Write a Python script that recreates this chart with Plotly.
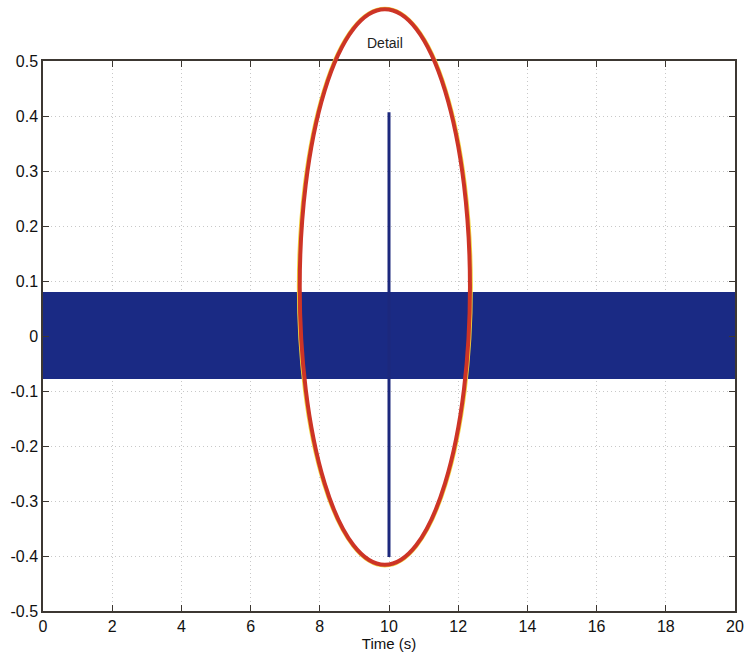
import plotly.graph_objects as go

# Signal envelope over the record (seconds, volts)
env_time = [0.0, 20.0]
env_upper = [0.080, 0.080]
env_lower = [-0.078, -0.078]

# Transient spike at t = 10 s
spike_time = [10.0, 10.0]
spike_values = [-0.402, 0.407]

# Highlight ellipse (centre and half-widths in data units)
detail_center = (9.88, 0.089)
detail_radius = (2.46, 0.505)
detail_label = "Detail"

x_range = [0, 20]
y_range = [-0.5, 0.5]
x_ticks = [0, 2, 4, 6, 8, 10, 12, 14, 16, 18, 20]
y_ticks = [0.5, 0.4, 0.3, 0.2, 0.1, 0, -0.1, -0.2, -0.3, -0.4, -0.5]

signal_color = "rgb(26,42,132)"
font_family = "Liberation Sans, Arial"

fig = go.Figure()
fig.add_trace(go.Scatter(x=env_time, y=env_lower, mode="lines",
                         line=dict(color=signal_color, width=0), showlegend=False))
fig.add_trace(go.Scatter(x=env_time, y=env_upper, mode="lines", fill="tonexty",
                         fillcolor=signal_color,
                         line=dict(color=signal_color, width=0), showlegend=False))
fig.add_trace(go.Scatter(x=spike_time, y=spike_values, mode="lines",
                         line=dict(color="rgb(28,40,125)", width=3), showlegend=False))


def to_paper(v, rng):
    return (v - rng[0]) / (rng[1] - rng[0])


cx, cy = detail_center
rx, ry = detail_radius
px0, px1 = to_paper(cx - rx, x_range), to_paper(cx + rx, x_range)
py0, py1 = to_paper(cy - ry, y_range), to_paper(cy + ry, y_range)

# yellow rim under the red outline
fig.add_shape(type="circle", xref="paper", yref="paper",
              x0=px0 - 0.002, x1=px1 + 0.002, y0=py0 - 0.002, y1=py1 + 0.002,
              line=dict(color="rgb(240,210,60)", width=3), layer="above")
fig.add_shape(type="circle", xref="paper", yref="paper",
              x0=px0, x1=px1, y0=py0, y1=py1,
              line=dict(color="rgb(205,52,38)", width=4), layer="above")

fig.add_annotation(x=to_paper(cx, x_range), y=to_paper(0.533, y_range),
                   xref="paper", yref="paper", text=detail_label,
                   xanchor="center", yanchor="middle",
                   showarrow=False, font=dict(size=14, color="#222222",
                                              family=font_family))

axis_common = dict(
    showgrid=True, gridcolor="rgb(200,200,200)", griddash="1px,3px", gridwidth=1,
    showline=True, linecolor="rgb(60,55,50)", linewidth=1.5, mirror="ticks",
    ticks="inside", ticklen=6, tickcolor="rgb(60,55,50)", tickwidth=1.2,
    zeroline=False, automargin=False,
    tickfont=dict(size=16, color="#111111", family=font_family),
)

fig.update_xaxes(range=x_range, tickvals=x_ticks,
                 ticktext=[str(t) for t in x_ticks],
                 title=dict(text="Time (s)", standoff=0,
                            font=dict(size=15, color="#111111",
                                      family=font_family)),
                 **axis_common)
fig.update_yaxes(range=y_range, tickvals=y_ticks,
                 ticktext=[("%g" % t) for t in y_ticks],
                 **axis_common)

fig.update_layout(
    width=747, height=657,
    margin=dict(l=43, r=12, t=61, b=46),
    paper_bgcolor="white", plot_bgcolor="white",
    showlegend=False,
)

fig.write_html("out.html")
